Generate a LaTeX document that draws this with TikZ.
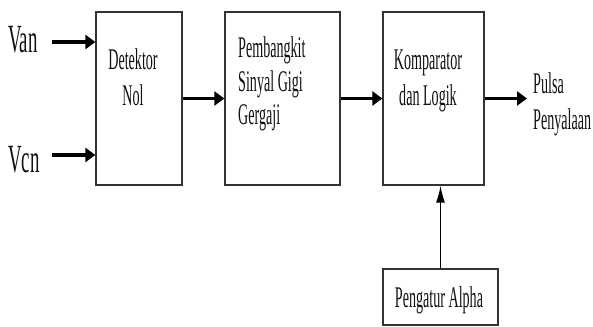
\documentclass[tikz,border=0pt]{standalone}
\usepackage{fontspec}
\usepackage{tikz}
\usetikzlibrary{arrows.meta,positioning}
\newfontfamily\blokfont[FakeStretch=0.47]{Liberation Serif}
\definecolor{ink}{HTML}{111111}
\definecolor{frame}{HTML}{333333}

\begin{document}
\begin{tikzpicture}[x=1pt,y=-1pt,
  blok/.style={draw=frame,line width=1.3pt,rectangle,inner sep=0pt},
  teks/.style={font=\blokfont\fontsize{30}{33}\selectfont,color=ink,inner sep=0pt},
  besar/.style={font=\blokfont\fontsize{40}{44}\selectfont,color=ink,inner sep=0pt},
  panah/.style={line width=3.8pt,-{Triangle[length=10pt,width=14pt]}},
  tipis/.style={line width=1.3pt,-{Latex[length=17pt,width=9pt]}}]
  \useasboundingbox (0,0) rectangle (593,326);
  \fill[white] (0,0) rectangle (593,326);
  % blocks
  \node[blok,minimum width=86pt,minimum height=173pt] (detektor) at (139,98.5) {};
  \node[blok,minimum width=115pt,minimum height=173pt] (gergaji) at (282.5,98.5) {};
  \node[blok,minimum width=101pt,minimum height=173pt] (komparator) at (433.5,98.5) {};
  \node[blok,minimum width=115pt,minimum height=56pt] (alpha) at (440.5,297) {};
  % block texts
  \node[teks,anchor=base] (tdet1) at (133,70) {Detektor};
  \node[teks,anchor=base] (tdet2) at (133,105) {Nol};
  \node[teks,anchor=base west] (tgen1) at (238,58) {Pembangkit};
  \node[teks,anchor=base west] (tgen2) at (238,92) {Sinyal Gigi};
  \node[teks,anchor=base west] (tgen3) at (238,124) {Gergaji};
  \node[teks,anchor=base] (tkom1) at (428,70) {Komparator};
  \node[teks,anchor=base] (tkom2) at (428,105) {dan Logik};
  \node[teks,anchor=base] (talpha) at (439,307) {Pengatur Alpha};
  % inputs and output
  \node[besar,anchor=base west] (van) at (8,53) {Van};
  \node[besar,anchor=base west] (vcn) at (8,172) {Vcn};
  \node[teks,anchor=base west] (pulsa1) at (533,93) {Pulsa};
  \node[teks,anchor=base west] (pulsa2) at (533,129) {Penyalaan};
  \coordinate (vanin) at (52,42);
  \coordinate (vcnin) at (52,155);
  \coordinate (keluar) at (527,98.5);
  % connectors
  \draw[panah] (vanin) -- (detektor.west |- vanin);
  \draw[panah] (vcnin) -- (detektor.west |- vcnin);
  \draw[panah] (detektor.east) -- (gergaji.west);
  \draw[panah] (gergaji.east) -- (komparator.west);
  \draw[panah] (komparator.east) -- (keluar);
  \draw[tipis] (alpha.north) -- (alpha.north |- komparator.south);
\end{tikzpicture}
\end{document}
